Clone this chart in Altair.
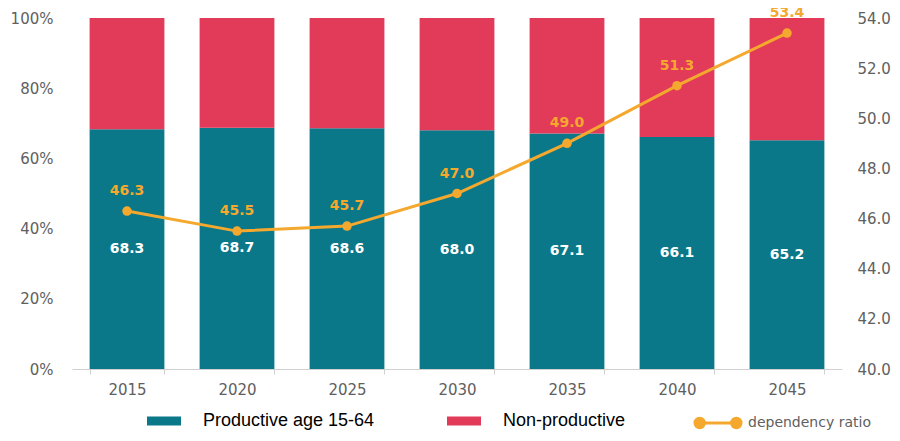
import altair as alt
import pandas as pd

years = ["2015", "2020", "2025", "2030", "2035", "2040", "2045"]
productive = [68.3, 68.7, 68.6, 68.0, 67.1, 66.1, 65.2]
ratio = [46.3, 45.5, 45.7, 47.0, 49.0, 51.3, 53.4]
series = ["Productive age 15-64", "Non-productive"]
left_ticks = [0, 10, 20, 30, 40, 50, 60, 70, 80, 90, 100]
right_ticks = [40, 42, 44, 46, 48, 50, 52, 54]

TEAL = "#0b7889"
RED = "#e23a59"
ORANGE = "#f5a82e"
GREY = "#606060"
FONT = "DejaVu Sans"

rows = []
for y, p in zip(years, productive):
    rows.append({"year": y, "series": series[0], "value": p, "ord": 0})
    rows.append({"year": y, "series": series[1], "value": round(100 - p, 1), "ord": 1})
bars_df = pd.DataFrame(rows)
prod_df = pd.DataFrame({"year": years, "productive": productive})
ratio_df = pd.DataFrame({"year": years, "ratio": ratio, "name": "dependency ratio"})

xenc = alt.X("year:N", sort=years, title=None,
             scale=alt.Scale(paddingInner=0.32, paddingOuter=0.16),
             axis=alt.Axis(labelAngle=0, labelFont=FONT, labelFontSize=15,
                           labelColor=GREY, domainColor="#d0d0d0", tickColor="#d0d0d0",
                           tickSize=5, tickBand="extent", labelPadding=8, grid=False,
                           labelOverlap=False))

rect_path = "M-1,-0.27L1,-0.27L1,0.27L-1,0.27Z"
line_path = ("M-1,0L1,0"
             "M-0.98,0a0.2,0.2 0 1,0 0.4,0a0.2,0.2 0 1,0 -0.4,0"
             "M0.58,0a0.2,0.2 0 1,0 0.4,0a0.2,0.2 0 1,0 -0.4,0")

bars = alt.Chart(bars_df).mark_bar().encode(
    x=xenc,
    y=alt.Y("value:Q", stack="zero", title=None,
            scale=alt.Scale(domain=[0, 100], nice=False),
            axis=alt.Axis(values=left_ticks, labelExpr="datum.value + '%'",
                          labelFont=FONT, labelFontSize=15, labelColor=GREY,
                          domain=False, ticks=False, grid=False, labelPadding=19,
                          labelOverlap=False)),
    color=alt.Color("series:N", scale=alt.Scale(domain=series, range=[TEAL, RED]),
                    legend=alt.Legend(orient="none", legendX=75, legendY=386,
                                      direction="horizontal", title=None,
                                      symbolType=rect_path, symbolSize=1156,
                                      symbolStrokeWidth=0,
                                      labelFont="Liberation Sans", labelFontSize=18,
                                      labelColor="black", columnPadding=72,
                                      labelOffset=22, padding=0, labelLimit=400)),
    order=alt.Order("ord:Q"),
)

bar_text = alt.Chart(prod_df).transform_calculate(
    mid="datum.productive / 2"
).mark_text(color="white", fontWeight="bold", font=FONT, fontSize=14).encode(
    x=alt.X("year:N", sort=years),
    y=alt.Y("mid:Q"),
    text=alt.Text("productive:Q", format=".1f"),
)

left = alt.layer(bars, bar_text)

yr = alt.Y("ratio:Q", title=None, scale=alt.Scale(domain=[40, 54], nice=False),
           axis=alt.Axis(orient="right", values=right_ticks, format=".1f",
                         labelFont=FONT, labelFontSize=15, labelColor=GREY,
                         domain=False, ticks=False, grid=False, labelPadding=15,
                         labelOverlap=False))

line = alt.Chart(ratio_df).mark_line(strokeWidth=3).encode(
    x=alt.X("year:N", sort=years),
    y=yr,
    stroke=alt.Stroke("name:N", scale=alt.Scale(range=[ORANGE]),
                      legend=alt.Legend(orient="none", legendX=621, legendY=380,
                                        title=None, symbolType=line_path,
                                        symbolSize=2209, symbolStrokeWidth=3,
                                        symbolFillColor=ORANGE,
                                        labelFont=FONT, labelFontSize=14,
                                        labelColor=GREY, labelOffset=5, padding=0)),
)
pts = alt.Chart(ratio_df).mark_point(filled=True, size=90, opacity=1, color=ORANGE).encode(
    x=alt.X("year:N", sort=years),
    y=alt.Y("ratio:Q"),
)
line_text = alt.Chart(ratio_df).mark_text(color=ORANGE, fontWeight="bold", font=FONT,
                                          fontSize=14, dy=-20).encode(
    x=alt.X("year:N", sort=years),
    y=alt.Y("ratio:Q"),
    text=alt.Text("ratio:Q", format=".1f"),
)
right = alt.layer(line, pts, line_text)

chart = alt.layer(left, right).resolve_scale(y="independent").properties(
    width=770, height=351,
    autosize=alt.AutoSizeParams(type="none"),
    padding={"left": 64, "top": 10, "right": 50, "bottom": 64},
).configure_view(stroke=None)

chart.save("out.html", embed_options={"renderer": "svg", "actions": False})
